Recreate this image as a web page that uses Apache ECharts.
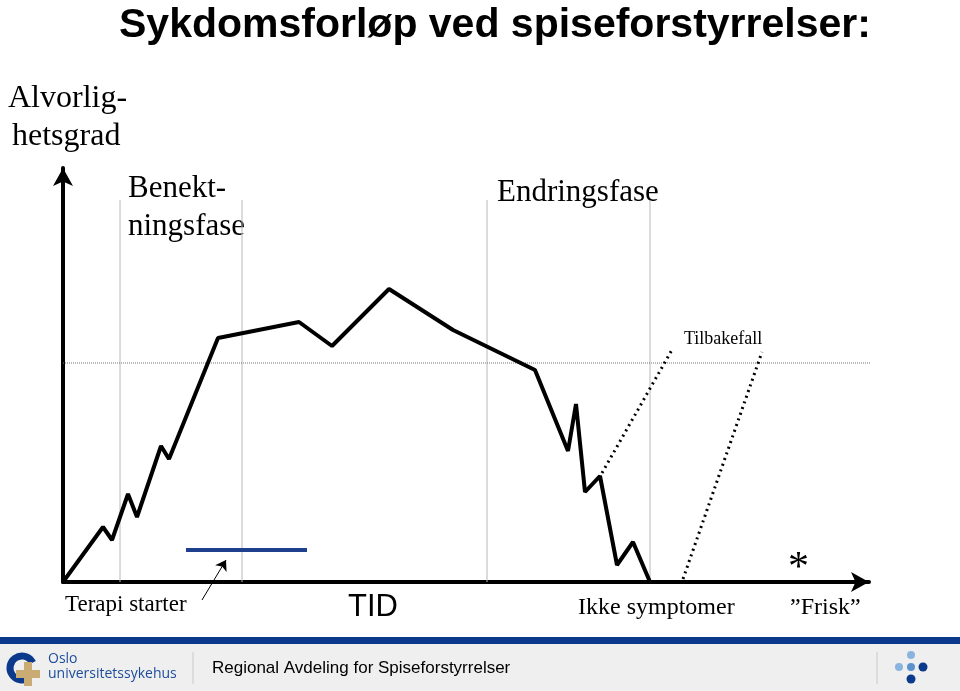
<!DOCTYPE html>
<html>
<head>
<meta charset="utf-8">
<title>Sykdomsforløp ved spiseforstyrrelser</title>
<script src="https://cdn.jsdelivr.net/npm/echarts@6/dist/echarts.min.js"></script>
<style>
  html, body { margin: 0; padding: 0; background: #fff; }
  #main { width: 960px; height: 691px; }
</style>
</head>
<body>
<div id="main"></div>
<script>
// forløpet: tid (x) og alvorlighetsgrad (y)
var courseTime     = [0, 40, 49, 65, 74, 98, 106, 155, 236, 269, 326, 390, 472, 505, 513, 522, 537, 554, 570, 587];
var courseSeverity = [0, 55, 42, 88, 65, 136, 123, 244, 260, 236, 293, 252, 212, 131, 178, 90, 106, 17, 40, 0];

// tilbakefall (stiplet)
var relapse1Time = [539, 610];
var relapse1Sev  = [109, 234];
var relapse2Time = [620, 699];
var relapse2Sev  = [3, 230];

// terskel og fasegrenser
var thresholdSev   = 219;
var thresholdRange = [0, 822];
var phaseLines     = [57, 179, 424, 587];
var phaseTop       = 382;

// terapi starter
var therapyTime = [123, 244];
var therapySev  = 32;
var arrowFrom   = [139, -18];
var arrowTo     = [163, 22];

function pairs(xs, ys) {
  var out = [];
  for (var i = 0; i < xs.length; i++) out.push([xs[i], ys[i]]);
  return out;
}

var serif = 'Liberation Serif, Times New Roman, serif';
var sans = 'Liberation Sans, Arial, sans-serif';

var series = [];
phaseLines.forEach(function (x) {
  series.push({
    type: 'line', data: [[x, 0], [x, phaseTop]], symbol: 'none', silent: true,
    lineStyle: { color: '#b8b8b8', width: 1 }, z: 1
  });
});
series.push({
  type: 'line', data: [[thresholdRange[0], thresholdSev], [thresholdRange[1], thresholdSev]],
  symbol: 'none', clip: false, silent: true,
  lineStyle: { color: '#777', width: 1, type: [1, 1] }, z: 1
});
series.push({
  type: 'line', data: pairs(relapse1Time, relapse1Sev), symbol: 'none',
  lineStyle: { color: '#000', width: 3, type: [2, 4] }, z: 2
});
series.push({
  type: 'line', data: pairs(relapse2Time, relapse2Sev), symbol: 'none',
  lineStyle: { color: '#000', width: 3, type: [2, 4] }, z: 2
});
series.push({
  type: 'line', data: pairs(courseTime, courseSeverity), symbol: 'none',
  lineStyle: { color: '#000', width: 4, join: 'bevel' }, z: 3
});
series.push({
  type: 'line', data: [[therapyTime[0], therapySev], [therapyTime[1], therapySev]],
  symbol: 'none', lineStyle: { color: '#1f3f8f', width: 4 }, z: 3
});
series.push({
  type: 'lines', coordinateSystem: 'cartesian2d', clip: false, silent: true,
  symbol: ['none', 'arrow'], symbolSize: [7, 10],
  lineStyle: { color: '#000', width: 1, opacity: 1 }, z: 3,
  data: [{ coords: [arrowFrom, arrowTo] }]
});

var chart = echarts.init(document.getElementById('main'));
chart.setOption({
  backgroundColor: '#fff',
  animation: false,
  title: {
    text: 'Sykdomsforløp ved spiseforstyrrelser:',
    left: 114, top: 0,
    textStyle: { fontFamily: sans, fontWeight: 'bold', fontSize: 41, color: '#000' }
  },
  grid: { left: 63, right: 91, top: 168, bottom: 109 },
  xAxis: {
    type: 'value', min: 0, max: 806,
    splitLine: { show: false }, axisTick: { show: false }, axisLabel: { show: false },
    axisLine: { show: true, lineStyle: { color: '#000', width: 4 },
      symbol: ['none', 'arrow'], symbolSize: [15, 18], symbolOffset: [0, 0] }
  },
  yAxis: {
    type: 'value', min: 0, max: 414,
    splitLine: { show: false }, axisTick: { show: false }, axisLabel: { show: false },
    axisLine: { show: true, lineStyle: { color: '#000', width: 4 },
      symbol: ['none', 'arrow'], symbolSize: [15, 18], symbolOffset: [0, 0] }
  },
  series: series,
  graphic: [
    { type: 'text', left: 8, top: 83, style: { text: 'Alvorlig-', font: '32px ' + serif, fill: '#000' } },
    { type: 'text', left: 12, top: 121, style: { text: 'hetsgrad', font: '32px ' + serif, fill: '#000' } },
    { type: 'text', left: 128, top: 173, style: { text: 'Benekt-', font: '31px ' + serif, fill: '#000' } },
    { type: 'text', left: 128, top: 211, style: { text: 'ningsfase', font: '31px ' + serif, fill: '#000' } },
    { type: 'text', left: 497, top: 177, style: { text: 'Endringsfase', font: '31px ' + serif, fill: '#000' } },
    { type: 'text', left: 684, top: 330, style: { text: 'Tilbakefall', font: '18px ' + serif, fill: '#000' } },
    { type: 'text', left: 65, top: 593, style: { text: 'Terapi starter', font: '23px ' + serif, fill: '#000' } },
    { type: 'text', left: 348, top: 592, style: { text: 'TID', font: '31px ' + sans, fill: '#000' } },
    { type: 'text', left: 578, top: 596, style: { text: 'Ikke symptomer', font: '24px ' + serif, fill: '#000' } },
    { type: 'text', left: 790, top: 596, style: { text: '\u201DFrisk\u201D', font: '24px ' + serif, fill: '#000' } },
    { type: 'text', left: 788, top: 548, style: { text: '*', font: '42px ' + serif, fill: '#000' } },

    // bunnfelt
    { type: 'rect', shape: { x: 0, y: 637, width: 960, height: 7 }, style: { fill: '#0b3a8d' } },
    { type: 'rect', shape: { x: 0, y: 644, width: 960, height: 47 }, style: { fill: '#efefef' } },
    { type: 'arc', shape: { cx: 22, cy: 668, r: 12, startAngle: Math.PI * 0.3, endAngle: Math.PI * 1.85 },
      style: { stroke: '#0b3a8d', lineWidth: 7, fill: null } },
    { type: 'rect', shape: { x: 24, y: 662, width: 8, height: 24 }, style: { fill: '#c9ab73' } },
    { type: 'rect', shape: { x: 16, y: 670, width: 24, height: 8 }, style: { fill: '#c9ab73' } },
    { type: 'text', left: 48, top: 652, style: { text: 'Oslo', font: '14px Open Sans, Arial, sans-serif', fill: '#1c4c9c' } },
    { type: 'text', left: 48, top: 667, style: { text: 'universitetssykehus', font: '14px Open Sans, Arial, sans-serif', fill: '#1c4c9c' } },
    { type: 'line', shape: { x1: 193, y1: 652, x2: 193, y2: 684 }, style: { stroke: '#c8c8c8', lineWidth: 1 } },
    { type: 'text', left: 212, top: 660, style: { text: 'Regional Avdeling for Spiseforstyrrelser', font: '17px ' + sans, fill: '#000' } },
    { type: 'line', shape: { x1: 877, y1: 652, x2: 877, y2: 684 }, style: { stroke: '#c8c8c8', lineWidth: 1 } },
    { type: 'circle', shape: { cx: 911, cy: 655, r: 4 }, style: { fill: '#8ab4dd' } },
    { type: 'circle', shape: { cx: 899, cy: 667, r: 4 }, style: { fill: '#8ab4dd' } },
    { type: 'circle', shape: { cx: 911, cy: 667, r: 4 }, style: { fill: '#5b93cf' } },
    { type: 'circle', shape: { cx: 923, cy: 667, r: 4.5 }, style: { fill: '#0b3a8d' } },
    { type: 'circle', shape: { cx: 911, cy: 679, r: 4.5 }, style: { fill: '#0b3a8d' } }
  ]
});
</script>
</body>
</html>
